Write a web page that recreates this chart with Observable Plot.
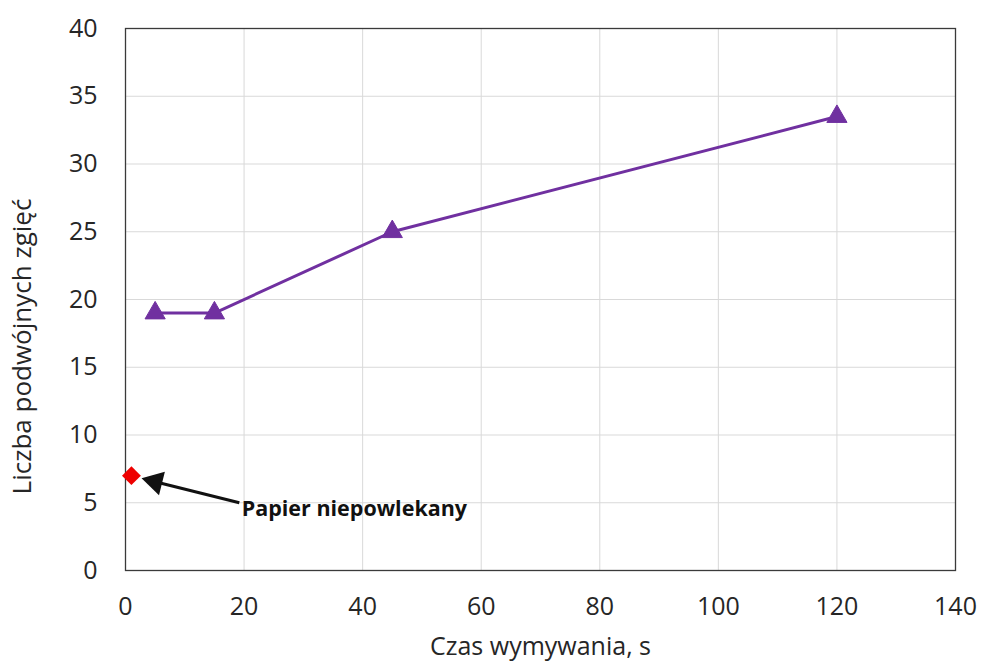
<!DOCTYPE html>
<html>
<head>
<meta charset="utf-8">
<script src="https://cdn.jsdelivr.net/npm/d3@7"></script>
<script src="https://cdn.jsdelivr.net/npm/@observablehq/plot@0.6"></script>
<style>
  body { margin: 0; background: #fff; }
  #chart svg { display: block; }
</style>
</head>
<body>
<div id="chart"></div>
<script>
// Washing time (s) vs number of double folds for coated paper
const washTime = [5, 15, 45, 120];
const doubleFolds = [19, 19, 25, 33.5];

// Uncoated paper reference point
const uncoatedTime = [1];
const uncoatedFolds = [7];
const uncoatedLabel = ["Papier niepowlekany"];

// Annotation arrow (tail near label, head near the reference point)
const arrowTail = [{x: 19.2, y: 5.0}];
const arrowHead = [{x: 5.0, y: 6.55}];

const xTicks = [0, 20, 40, 60, 80, 100, 120, 140];
const yTicks = [0, 5, 10, 15, 20, 25, 30, 35, 40];
const xLabel = "Czas wymywania, s";
const yLabel = "Liczba podwójnych zgięć";

const series = washTime.map((t, i) => ({t, n: doubleFolds[i]}));
const uncoated = uncoatedTime.map((t, i) => ({t, n: uncoatedFolds[i], label: uncoatedLabel[i]}));
const arrow = arrowTail.map((a, i) => ({x1: a.x, y1: a.y, x2: arrowHead[i].x, y2: arrowHead[i].y}));

const purple = "#7030A0";
const fontFamily = "'Open Sans', sans-serif";

const chart = Plot.plot({
  width: 981,
  height: 663,
  marginLeft: 125,
  marginRight: 26,
  marginTop: 28,
  marginBottom: 93,
  style: {fontFamily, fontSize: "26px", color: "#262626", background: "#fff"},
  x: {domain: [0, 140], ticks: xTicks},
  y: {domain: [0, 40], ticks: yTicks},
  marks: [
    Plot.gridX(xTicks, {stroke: "#d9d9d9", strokeOpacity: 1}),
    Plot.gridY(yTicks, {stroke: "#d9d9d9", strokeOpacity: 1}),
    Plot.axisX(xTicks, {tickSize: 0, tickPadding: 27, fontSize: 25,
      label: xLabel, labelAnchor: "center", labelOffset: 84, labelArrow: "none"}),
    Plot.axisY(yTicks, {tickSize: 0, tickPadding: 28, fontSize: 25, label: null}),
    Plot.text([yLabel], {frameAnchor: "left", dx: -103, dy: 47, rotate: -90,
      fontSize: 26, fill: "#262626", textAnchor: "middle"}),
    Plot.frame({stroke: "#3a3a3a", strokeWidth: 1.3, strokeOpacity: 1}),
    Plot.line(series, {x: "t", y: "n", stroke: purple, strokeWidth: 3}),
    Plot.dot(series, {x: "t", y: "n", symbol: "triangle", r: 7.5, fill: purple, stroke: purple, strokeWidth: 1}),
    Plot.dot(uncoated, {x: "t", y: "n", symbol: "diamond2", r: 8.5, fill: "#ee0000", stroke: "none"}),
    Plot.link(arrow, {x1: "x1", y1: "y1", x2: "x2", y2: "y2", stroke: "#111", strokeWidth: 3}),
    Plot.dot(arrow, {x: "x2", y: "y2", symbol: "triangle", r: 9, fill: "#111", rotate: -76}),
    Plot.text(uncoated, {x: () => 19.6, y: () => 4.55, text: "label", textAnchor: "start",
      fontWeight: "bold", fontSize: 21.5, fill: "#111"})
  ]
});
document.getElementById("chart").append(chart);
</script>
</body>
</html>
